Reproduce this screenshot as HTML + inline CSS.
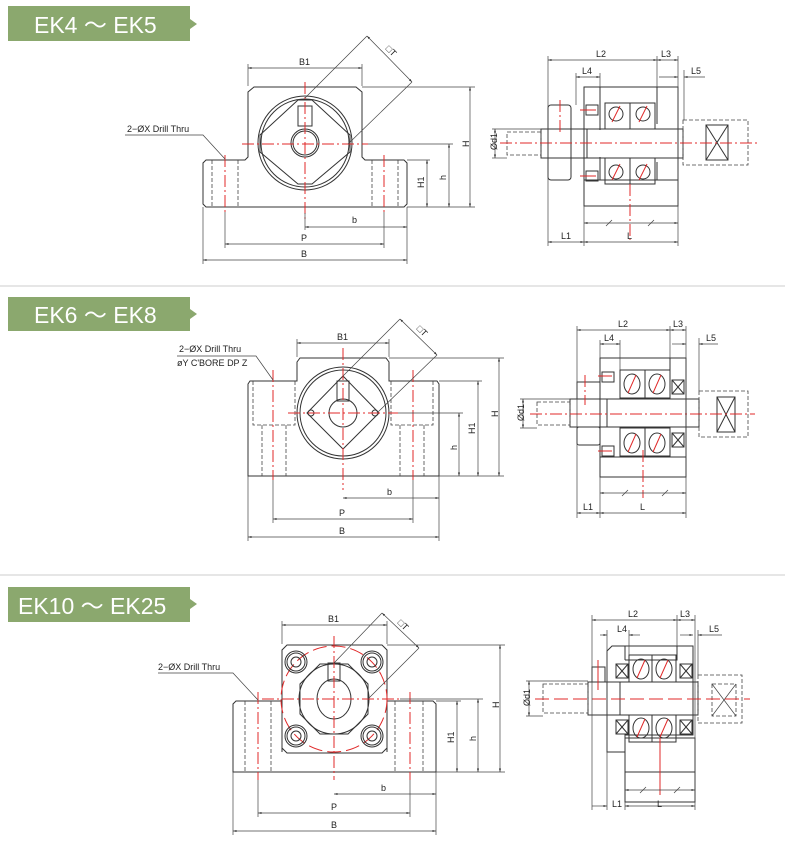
<!DOCTYPE html>
<html><head><meta charset="utf-8"><style>
html,body{margin:0;padding:0;background:#fff;width:785px;height:861px;overflow:hidden}
svg{display:block}
text{font-family:"Liberation Sans",sans-serif;fill:#222}
.k{stroke:#333;stroke-width:1;fill:none}
.kf{stroke:#333;stroke-width:1;fill:#fff}
.t{stroke:#444;stroke-width:.7;fill:none}
.d{stroke:#444;stroke-width:.8;fill:none;stroke-dasharray:4 2}
.r{stroke:#e02828;stroke-width:1;fill:none;stroke-dasharray:12 3 2 3}
.rs{stroke:#e02828;stroke-width:1;fill:none}
.rd{stroke:#e02828;stroke-width:1;fill:none;stroke-dasharray:14 5}
.dim{font-size:9px}
.hd{font-size:23px;fill:#fff}
</style></head><body>
<svg width="785" height="861" viewBox="0 0 785 861">
<defs>
<marker id="a" viewBox="0 0 10 10" refX="10" refY="5" markerWidth="5" markerHeight="5" orient="auto-start-reverse"><path d="M0,2L10,5L0,8z" fill="#333"/></marker>
</defs>
<!-- separators -->
<line x1="0" y1="286" x2="785" y2="286" stroke="#ccc"/>
<line x1="0" y1="575" x2="785" y2="575" stroke="#ccc"/>
<!-- headers -->
<path d="M8,6H190V19L197,24L190,29V41H8z" fill="#8ba86e"/>
<text x="34" y="33" class="hd">EK4 ～ EK5</text>
<path d="M8,297H190V309L197,314L190,319V331H8z" fill="#8ba86e"/>
<text x="34" y="323" class="hd">EK6 ～ EK8</text>
<path d="M8,587H190V599L197,604L190,609V622H8z" fill="#8ba86e"/>
<text x="18" y="614" class="hd">EK10 ～ EK25</text>

<!-- ===== SECTION 1 FRONT ===== -->
<g>
<path class="k" d="M206,160H245L248,157V92L254,87H356L362,92V157L365,160H404L407,163V204L404,207H206L203,204V163Z"/>
<line class="d" x1="212" y1="160" x2="212" y2="207"/><line class="d" x1="238" y1="160" x2="238" y2="207"/>
<line class="d" x1="372" y1="160" x2="372" y2="207"/><line class="d" x1="398" y1="160" x2="398" y2="207"/>
<circle class="k" cx="305" cy="143" r="47"/><circle class="k" cx="305" cy="143" r="44"/>
<path class="k" d="M298,100H312L350,135V152L312,184H298L260,152V135Z"/>
<rect class="k" x="298" y="106" width="14" height="20"/>
<circle class="k" cx="305" cy="143" r="12"/><circle class="k" cx="305" cy="143" r="14"/>
<line class="r" x1="305" y1="82" x2="305" y2="220"/>
<line class="r" x1="242" y1="144" x2="368" y2="144"/>
<line class="r" x1="225" y1="155" x2="225" y2="212"/><line class="r" x1="384" y1="155" x2="384" y2="212"/>
<!-- T -->
<line class="t" x1="305" y1="98" x2="367" y2="36"/>
<line class="t" x1="348" y1="144" x2="412" y2="82"/>
<line class="t" x1="367" y1="36" x2="412" y2="82" marker-start="url(#a)" marker-end="url(#a)"/>
<text x="384" y="52" class="dim" transform="rotate(45 388 52)">□T</text>
<!-- dims -->
<line class="t" x1="248" y1="86" x2="248" y2="64"/><line class="t" x1="362" y1="86" x2="362" y2="64"/>
<line class="t" x1="248" y1="68" x2="362" y2="68" marker-start="url(#a)" marker-end="url(#a)"/><text x="299" y="65" class="dim">B1</text>
<line class="t" x1="362" y1="87" x2="475" y2="87"/><line class="t" x1="407" y1="207" x2="475" y2="207"/>
<line class="t" x1="368" y1="144" x2="453" y2="144"/><line class="t" x1="407" y1="160" x2="430" y2="160"/>
<line class="t" x1="470" y1="87" x2="470" y2="207" marker-start="url(#a)" marker-end="url(#a)"/><text x="466" y="150" class="dim" transform="rotate(-90 466 147)">H</text>
<line class="t" x1="449" y1="144" x2="449" y2="207" marker-start="url(#a)" marker-end="url(#a)"/><text x="440" y="178" class="dim" transform="rotate(-90 444 176)">h</text>
<line class="t" x1="427" y1="160" x2="427" y2="207" marker-start="url(#a)" marker-end="url(#a)"/><text x="418" y="186" class="dim" transform="rotate(-90 422 184)">H1</text>
<line class="t" x1="203" y1="207" x2="203" y2="264"/><line class="t" x1="407" y1="207" x2="407" y2="264"/>
<line class="t" x1="225" y1="212" x2="225" y2="248"/><line class="t" x1="384" y1="212" x2="384" y2="248"/>
<line class="t" x1="305" y1="213" x2="305" y2="230"/>
<line class="t" x1="305" y1="227" x2="407" y2="227" marker-start="url(#a)" marker-end="url(#a)"/><text x="352" y="223" class="dim">b</text>
<line class="t" x1="225" y1="244" x2="384" y2="244" marker-start="url(#a)" marker-end="url(#a)"/><text x="301" y="241" class="dim">P</text>
<line class="t" x1="203" y1="260" x2="407" y2="260" marker-start="url(#a)" marker-end="url(#a)"/><text x="301" y="257" class="dim">B</text>
<text x="127" y="132" class="dim">2−ØX Drill Thru</text>
<polyline class="t" points="125,135 203,135 225,159"/>
</g>

<!-- ===== SECTION 1 SIDE ===== -->
<g>
<rect class="k" x="584" y="87" width="94" height="119"/>
<line class="k" x1="584" y1="180" x2="678" y2="180"/>
<line class="k" x1="600" y1="87" x2="600" y2="130"/><line class="k" x1="600" y1="157" x2="600" y2="180"/>
<line class="k" x1="657" y1="87" x2="657" y2="124"/><line class="k" x1="657" y1="162" x2="657" y2="180"/>
<rect class="k" x="605" y="103" width="50" height="26"/><rect class="k" x="605" y="158" width="50" height="26"/>
<line class="k" x1="630" y1="103" x2="630" y2="129"/><line class="k" x1="630" y1="158" x2="630" y2="184"/>
<circle class="k" cx="616" cy="114" r="7"/><circle class="k" cx="643" cy="114" r="7"/>
<circle class="k" cx="616" cy="172" r="7"/><circle class="k" cx="643" cy="172" r="7"/>
<line class="rs" x1="612" y1="122" x2="620" y2="106"/><line class="rs" x1="639" y1="122" x2="647" y2="106"/>
<line class="rs" x1="612" y1="180" x2="620" y2="164"/><line class="rs" x1="639" y1="180" x2="647" y2="164"/>
<rect class="k" x="586" y="105" width="12" height="10"/><rect class="k" x="586" y="171" width="12" height="10"/>
<line class="rs" x1="580" y1="110" x2="596" y2="110"/><line class="rs" x1="580" y1="176" x2="596" y2="176"/>
<rect class="k" x="548" y="105" width="23" height="75" rx="3"/>
<rect class="k" x="541" y="129" width="142" height="29"/>
<line class="k" x1="587" y1="129" x2="587" y2="158"/>
<rect class="d" x="507" y="132" width="34" height="23"/>
<rect class="d" x="683" y="120" width="65" height="45"/>
<rect class="k" x="706" y="125" width="22" height="35"/>
<line class="k" x1="706" y1="125" x2="728" y2="160"/><line class="k" x1="728" y1="125" x2="706" y2="160"/>
<line class="r" x1="500" y1="143" x2="760" y2="143"/>
<line class="r" x1="560" y1="100" x2="560" y2="135"/>
<line class="r" x1="630" y1="184" x2="630" y2="240"/>
<!-- dims -->
<line class="t" x1="548" y1="56" x2="548" y2="246"/><line class="t" x1="678" y1="56" x2="678" y2="246"/>
<line class="t" x1="657" y1="56" x2="657" y2="87"/><line class="t" x1="576" y1="73" x2="576" y2="105"/><line class="t" x1="600" y1="73" x2="600" y2="87"/>
<line class="t" x1="548" y1="60" x2="657" y2="60" marker-start="url(#a)" marker-end="url(#a)"/><text x="596" y="57" class="dim">L2</text>
<line class="t" x1="657" y1="60" x2="678" y2="60" marker-start="url(#a)" marker-end="url(#a)"/><text x="661" y="57" class="dim">L3</text>
<line class="t" x1="576" y1="77" x2="600" y2="77" marker-start="url(#a)" marker-end="url(#a)"/><text x="582" y="74" class="dim">L4</text>
<line class="t" x1="659" y1="77" x2="678" y2="77" marker-end="url(#a)"/><line class="t" x1="684" y1="77" x2="705" y2="77" marker-start="url(#a)"/><line class="t" x1="684" y1="70" x2="684" y2="120"/><text x="691" y="74" class="dim">L5</text>
<line class="t" x1="584" y1="206" x2="584" y2="246"/>
<line class="t" x1="584" y1="223" x2="678" y2="223" marker-start="url(#a)" marker-end="url(#a)"/>
<line class="t" x1="606" y1="226" x2="612" y2="220"/><line class="t" x1="648" y1="226" x2="654" y2="220"/>
<line class="t" x1="548" y1="242" x2="584" y2="242" marker-start="url(#a)" marker-end="url(#a)"/><text x="561" y="239" class="dim">L1</text>
<line class="t" x1="584" y1="242" x2="678" y2="242" marker-start="url(#a)" marker-end="url(#a)"/><text x="627" y="239" class="dim">L</text>
<line class="t" x1="492" y1="129" x2="541" y2="129"/><line class="t" x1="492" y1="158" x2="507" y2="158"/>
<line class="t" x1="495" y1="129" x2="495" y2="158" marker-start="url(#a)" marker-end="url(#a)"/><text x="483" y="150" class="dim" transform="rotate(-90 490 143)">Ød1</text>
</g>

<!-- ===== SECTION 2 FRONT ===== -->
<g>
<path class="k" d="M250,381H297V362L300,358H386L389,362V381H437L439,384V476H248V384Z"/>
<path class="d" d="M253,381V425H295V381M262,425V476M286,425V476"/>
<path class="d" d="M391,381V425H433V381M400,425V476M424,425V476"/>
<circle class="k" cx="343" cy="413" r="46"/><circle class="k" cx="343" cy="413" r="43"/>
<path class="k" d="M343,376L379,413L343,449L307,413Z"/>
<rect class="k" x="337" y="381" width="12" height="20"/>
<circle class="k" cx="343" cy="413" r="14"/>
<circle class="k" cx="311" cy="413" r="3"/><circle class="k" cx="375" cy="413" r="3"/>
<line class="r" x1="343" y1="348" x2="343" y2="490"/>
<line class="r" x1="288" y1="413" x2="398" y2="413"/>
<line class="r" x1="273" y1="370" x2="273" y2="480"/><line class="r" x1="413" y1="370" x2="413" y2="480"/>
<line class="t" x1="343" y1="376" x2="400" y2="319"/>
<line class="t" x1="377" y1="413" x2="437" y2="355"/>
<line class="t" x1="400" y1="319" x2="437" y2="355" marker-start="url(#a)" marker-end="url(#a)"/>
<text x="415" y="332" class="dim" transform="rotate(45 419 332)">□T</text>
<line class="t" x1="297" y1="357" x2="297" y2="339"/><line class="t" x1="389" y1="357" x2="389" y2="339"/>
<line class="t" x1="297" y1="343" x2="389" y2="343" marker-start="url(#a)" marker-end="url(#a)"/><text x="337" y="340" class="dim">B1</text>
<line class="t" x1="389" y1="358" x2="504" y2="358"/><line class="t" x1="439" y1="476" x2="504" y2="476"/>
<line class="t" x1="398" y1="413" x2="463" y2="413"/><line class="t" x1="439" y1="381" x2="482" y2="381"/>
<line class="t" x1="499" y1="358" x2="499" y2="476" marker-start="url(#a)" marker-end="url(#a)"/><text x="495" y="420" class="dim" transform="rotate(-90 495 417)">H</text>
<line class="t" x1="478" y1="381" x2="478" y2="476" marker-start="url(#a)" marker-end="url(#a)"/><text x="469" y="432" class="dim" transform="rotate(-90 473 430)">H1</text>
<line class="t" x1="459" y1="413" x2="459" y2="476" marker-start="url(#a)" marker-end="url(#a)"/><text x="451" y="448" class="dim" transform="rotate(-90 455 446)">h</text>
<line class="t" x1="248" y1="476" x2="248" y2="541"/><line class="t" x1="439" y1="476" x2="439" y2="541"/>
<line class="t" x1="273" y1="480" x2="273" y2="523"/><line class="t" x1="413" y1="480" x2="413" y2="523"/>
<line class="t" x1="343" y1="498" x2="439" y2="498" marker-start="url(#a)" marker-end="url(#a)"/><text x="387" y="495" class="dim">b</text>
<line class="t" x1="273" y1="519" x2="413" y2="519" marker-start="url(#a)" marker-end="url(#a)"/><text x="339" y="516" class="dim">P</text>
<line class="t" x1="248" y1="537" x2="439" y2="537" marker-start="url(#a)" marker-end="url(#a)"/><text x="339" y="534" class="dim">B</text>
<text x="179" y="352" class="dim">2−ØX Drill Thru</text>
<text x="177" y="366" class="dim">øY C'BORE DP Z</text>
<polyline class="t" points="177,356 256,356 273,380"/>
</g>

<!-- ===== SECTION 2 SIDE ===== -->
<g>
<rect class="k" x="600" y="358" width="86" height="119"/>
<line class="k" x1="600" y1="457" x2="686" y2="457"/>
<line class="k" x1="670" y1="358" x2="670" y2="395"/><line class="k" x1="670" y1="431" x2="670" y2="457"/>
<rect class="k" x="620" y="370" width="50" height="28"/><rect class="k" x="620" y="428" width="50" height="28"/>
<line class="k" x1="645" y1="370" x2="645" y2="398"/><line class="k" x1="645" y1="428" x2="645" y2="456"/>
<ellipse class="k" cx="632" cy="384" rx="8" ry="10"/><ellipse class="k" cx="657" cy="384" rx="8" ry="10"/>
<ellipse class="k" cx="632" cy="443" rx="8" ry="10"/><ellipse class="k" cx="657" cy="443" rx="8" ry="10"/>
<line class="rs" x1="628" y1="393" x2="636" y2="375"/><line class="rs" x1="653" y1="393" x2="661" y2="375"/>
<line class="rs" x1="628" y1="452" x2="636" y2="434"/><line class="rs" x1="653" y1="452" x2="661" y2="434"/>
<rect class="k" x="672" y="380" width="12" height="14"/><line class="k" x1="672" y1="380" x2="684" y2="394"/><line class="k" x1="684" y1="380" x2="672" y2="394"/>
<rect class="k" x="672" y="433" width="12" height="14"/><line class="k" x1="672" y1="433" x2="684" y2="447"/><line class="k" x1="684" y1="433" x2="672" y2="447"/>
<rect class="k" x="602" y="372" width="12" height="10"/><rect class="k" x="602" y="446" width="12" height="10"/>
<line class="rs" x1="598" y1="376" x2="612" y2="376"/><line class="rs" x1="598" y1="451" x2="612" y2="451"/>
<rect class="k" x="577" y="382" width="23" height="17"/><rect class="k" x="577" y="427" width="23" height="18" rx="2"/>
<rect class="k" x="570" y="399" width="129" height="28"/>
<line class="k" x1="607" y1="399" x2="607" y2="427"/>
<rect class="d" x="537" y="402" width="33" height="23"/>
<rect class="d" x="699" y="391" width="49" height="46"/>
<rect class="k" x="717" y="397" width="18" height="35"/>
<line class="k" x1="717" y1="397" x2="735" y2="432"/><line class="k" x1="735" y1="397" x2="717" y2="432"/>
<line class="r" x1="530" y1="414" x2="755" y2="414"/>
<line class="r" x1="585" y1="375" x2="585" y2="405"/>
<line class="r" x1="643" y1="450" x2="643" y2="498"/>
<line class="t" x1="577" y1="326" x2="577" y2="518"/><line class="t" x1="686" y1="326" x2="686" y2="518"/>
<line class="t" x1="670" y1="326" x2="670" y2="358"/><line class="t" x1="600" y1="340" x2="600" y2="358"/><line class="t" x1="620" y1="340" x2="620" y2="370"/>
<line class="t" x1="577" y1="330" x2="670" y2="330" marker-start="url(#a)" marker-end="url(#a)"/><text x="618" y="327" class="dim">L2</text>
<line class="t" x1="670" y1="330" x2="686" y2="330" marker-start="url(#a)" marker-end="url(#a)"/><text x="673" y="327" class="dim">L3</text>
<line class="t" x1="600" y1="344" x2="620" y2="344" marker-start="url(#a)" marker-end="url(#a)"/><text x="604" y="341" class="dim">L4</text>
<line class="t" x1="672" y1="344" x2="686" y2="344" marker-end="url(#a)"/><line class="t" x1="699" y1="344" x2="718" y2="344" marker-start="url(#a)"/><line class="t" x1="699" y1="338" x2="699" y2="391"/><text x="706" y="341" class="dim">L5</text>
<line class="t" x1="600" y1="477" x2="600" y2="518"/>
<line class="t" x1="600" y1="493" x2="686" y2="493" marker-start="url(#a)" marker-end="url(#a)"/>
<line class="t" x1="622" y1="496" x2="628" y2="490"/><line class="t" x1="662" y1="496" x2="668" y2="490"/>
<line class="t" x1="577" y1="513" x2="600" y2="513" marker-start="url(#a)" marker-end="url(#a)"/><text x="583" y="510" class="dim">L1</text>
<line class="t" x1="600" y1="513" x2="686" y2="513" marker-start="url(#a)" marker-end="url(#a)"/><text x="640" y="510" class="dim">L</text>
<line class="t" x1="520" y1="399" x2="570" y2="399"/><line class="t" x1="520" y1="428" x2="537" y2="428"/>
<line class="t" x1="523" y1="399" x2="523" y2="428" marker-start="url(#a)" marker-end="url(#a)"/><text x="511" y="420" class="dim" transform="rotate(-90 518 414)">Ød1</text>
</g>

<!-- ===== SECTION 3 FRONT ===== -->
<g>
<path class="k" d="M236,701H282V650L287,645H382L387,650V701H433L436,704V772H233V704Z"/>
<line class="k" x1="282" y1="701" x2="282" y2="752"/><line class="k" x1="387" y1="701" x2="387" y2="752"/>
<path class="k" d="M282,748L287,753H382L387,748"/>
<line class="d" x1="245" y1="701" x2="245" y2="772"/><line class="d" x1="271" y1="701" x2="271" y2="772"/>
<line class="d" x1="395" y1="701" x2="395" y2="772"/><line class="d" x1="423" y1="701" x2="423" y2="772"/>
<circle class="rd" cx="334" cy="699" r="53"/>
<g class="k">
<circle cx="296" cy="662" r="11"/><circle cx="296" cy="662" r="9"/><circle cx="296" cy="662" r="5"/>
<circle cx="372" cy="662" r="11"/><circle cx="372" cy="662" r="9"/><circle cx="372" cy="662" r="5"/>
<circle cx="296" cy="736" r="11"/><circle cx="296" cy="736" r="9"/><circle cx="296" cy="736" r="5"/>
<circle cx="372" cy="736" r="11"/><circle cx="372" cy="736" r="9"/><circle cx="372" cy="736" r="5"/>
</g>
<circle class="k" cx="334" cy="699" r="35"/>
<path class="k" d="M320,664H348L368,684V714L348,734H320L300,714V684Z"/>
<ellipse class="k" cx="334" cy="699" rx="17" ry="20"/>
<rect class="k" x="328" y="663" width="12" height="18"/>
<line class="r" x1="334" y1="636" x2="334" y2="780"/>
<line class="r" x1="262" y1="699" x2="400" y2="699"/>
<line class="r" x1="258" y1="692" x2="258" y2="780"/><line class="r" x1="410" y1="692" x2="410" y2="780"/>
<line class="t" x1="334" y1="663" x2="382" y2="613"/>
<line class="t" x1="368" y1="699" x2="419" y2="648"/>
<line class="t" x1="382" y1="613" x2="419" y2="648" marker-start="url(#a)" marker-end="url(#a)"/>
<text x="396" y="626" class="dim" transform="rotate(45 400 626)">□T</text>
<line class="t" x1="282" y1="644" x2="282" y2="621"/><line class="t" x1="387" y1="644" x2="387" y2="621"/>
<line class="t" x1="282" y1="625" x2="387" y2="625" marker-start="url(#a)" marker-end="url(#a)"/><text x="328" y="622" class="dim">B1</text>
<line class="t" x1="387" y1="645" x2="505" y2="645"/><line class="t" x1="436" y1="772" x2="505" y2="772"/>
<line class="t" x1="400" y1="699" x2="483" y2="699"/><line class="t" x1="436" y1="701" x2="461" y2="701"/>
<line class="t" x1="500" y1="645" x2="500" y2="772" marker-start="url(#a)" marker-end="url(#a)"/><text x="496" y="711" class="dim" transform="rotate(-90 496 708)">H</text>
<line class="t" x1="478" y1="699" x2="478" y2="772" marker-start="url(#a)" marker-end="url(#a)"/><text x="470" y="739" class="dim" transform="rotate(-90 474 737)">h</text>
<line class="t" x1="457" y1="701" x2="457" y2="772" marker-start="url(#a)" marker-end="url(#a)"/><text x="448" y="741" class="dim" transform="rotate(-90 452 739)">H1</text>
<line class="t" x1="233" y1="772" x2="233" y2="835"/><line class="t" x1="436" y1="772" x2="436" y2="835"/>
<line class="t" x1="258" y1="780" x2="258" y2="817"/><line class="t" x1="410" y1="780" x2="410" y2="817"/>
<line class="t" x1="334" y1="794" x2="436" y2="794" marker-start="url(#a)" marker-end="url(#a)"/><text x="381" y="791" class="dim">b</text>
<line class="t" x1="258" y1="813" x2="410" y2="813" marker-start="url(#a)" marker-end="url(#a)"/><text x="331" y="810" class="dim">P</text>
<line class="t" x1="233" y1="831" x2="436" y2="831" marker-start="url(#a)" marker-end="url(#a)"/><text x="331" y="828" class="dim">B</text>
<text x="158" y="670" class="dim">2−ØX Drill Thru</text>
<polyline class="t" points="158,673 233,673 258,700"/>
</g>

<!-- ===== SECTION 3 SIDE ===== -->
<g>
<path class="k" d="M612,646H693V735H625V752H607V651Z"/>
<path class="k" d="M625,660H677V646M625,660V646"/>
<rect class="k" x="625" y="738" width="70" height="64"/>
<line class="k" x1="625" y1="772" x2="695" y2="772"/>
<rect class="k" x="629" y="655" width="47" height="27"/><rect class="k" x="629" y="715" width="47" height="27"/>
<line class="k" x1="652" y1="655" x2="652" y2="682"/><line class="k" x1="652" y1="715" x2="652" y2="742"/>
<ellipse class="k" cx="641" cy="669" rx="8" ry="10"/><ellipse class="k" cx="664" cy="669" rx="8" ry="10"/>
<ellipse class="k" cx="641" cy="728" rx="8" ry="10"/><ellipse class="k" cx="664" cy="728" rx="8" ry="10"/>
<line class="rs" x1="637" y1="678" x2="645" y2="660"/><line class="rs" x1="660" y1="678" x2="668" y2="660"/>
<line class="rs" x1="637" y1="737" x2="645" y2="719"/><line class="rs" x1="660" y1="737" x2="668" y2="719"/>
<g class="k">
<rect x="616" y="664" width="12" height="14"/><line x1="616" y1="664" x2="628" y2="678"/><line x1="628" y1="664" x2="616" y2="678"/>
<rect x="680" y="664" width="12" height="14"/><line x1="680" y1="664" x2="692" y2="678"/><line x1="692" y1="664" x2="680" y2="678"/>
<rect x="616" y="720" width="12" height="14"/><line x1="616" y1="720" x2="628" y2="734"/><line x1="628" y1="720" x2="616" y2="734"/>
<rect x="680" y="720" width="12" height="14"/><line x1="680" y1="720" x2="692" y2="734"/><line x1="692" y1="720" x2="680" y2="734"/>
</g>
<rect class="k" x="592" y="667" width="13" height="15"/>
<rect class="k" x="588" y="682" width="110" height="33"/>
<line class="k" x1="620" y1="682" x2="620" y2="715"/>
<rect class="d" x="543" y="684" width="45" height="29"/>
<rect class="d" x="698" y="675" width="44" height="48"/>
<rect class="d" x="712" y="684" width="24" height="32"/>
<line class="t" x1="712" y1="684" x2="736" y2="716"/><line class="t" x1="736" y1="684" x2="712" y2="716"/>
<line class="rd" x1="535" y1="699" x2="750" y2="699"/>
<line class="rs" x1="598" y1="660" x2="598" y2="690"/>
<line class="rs" x1="660" y1="738" x2="660" y2="795"/>
<line class="t" x1="592" y1="615" x2="592" y2="810"/><line class="t" x1="695" y1="615" x2="695" y2="810"/>
<line class="t" x1="677" y1="615" x2="677" y2="646"/><line class="t" x1="607" y1="630" x2="607" y2="810"/><line class="t" x1="629" y1="630" x2="629" y2="655"/>
<line class="t" x1="592" y1="620" x2="677" y2="620" marker-start="url(#a)" marker-end="url(#a)"/><text x="628" y="617" class="dim">L2</text>
<line class="t" x1="677" y1="620" x2="695" y2="620" marker-start="url(#a)" marker-end="url(#a)"/><text x="680" y="617" class="dim">L3</text>
<line class="t" x1="600" y1="635" x2="607" y2="635" marker-end="url(#a)"/><line class="t" x1="629" y1="635" x2="640" y2="635" marker-start="url(#a)"/><text x="617" y="632" class="dim">L4</text>
<line class="t" x1="680" y1="635" x2="693" y2="635" marker-end="url(#a)"/><line class="t" x1="698" y1="635" x2="722" y2="635" marker-start="url(#a)"/><line class="t" x1="698" y1="630" x2="698" y2="675"/><text x="709" y="632" class="dim">L5</text>
<line class="t" x1="625" y1="790" x2="695" y2="790" marker-start="url(#a)" marker-end="url(#a)"/>
<line class="t" x1="640" y1="793" x2="646" y2="787"/><line class="t" x1="674" y1="793" x2="680" y2="787"/>
<line class="t" x1="625" y1="802" x2="625" y2="810"/>
<line class="t" x1="592" y1="806" x2="607" y2="806" marker-end="url(#a)"/><text x="612" y="807" class="dim">L1</text>
<line class="t" x1="625" y1="806" x2="695" y2="806" marker-start="url(#a)" marker-end="url(#a)"/><text x="657" y="807" class="dim">L</text>
<line class="t" x1="526" y1="681" x2="588" y2="681"/><line class="t" x1="526" y1="716" x2="543" y2="716"/>
<line class="t" x1="529" y1="681" x2="529" y2="716" marker-start="url(#a)" marker-end="url(#a)"/><text x="517" y="705" class="dim" transform="rotate(-90 524 699)">Ød1</text>
</g>
</svg>
</body></html>
